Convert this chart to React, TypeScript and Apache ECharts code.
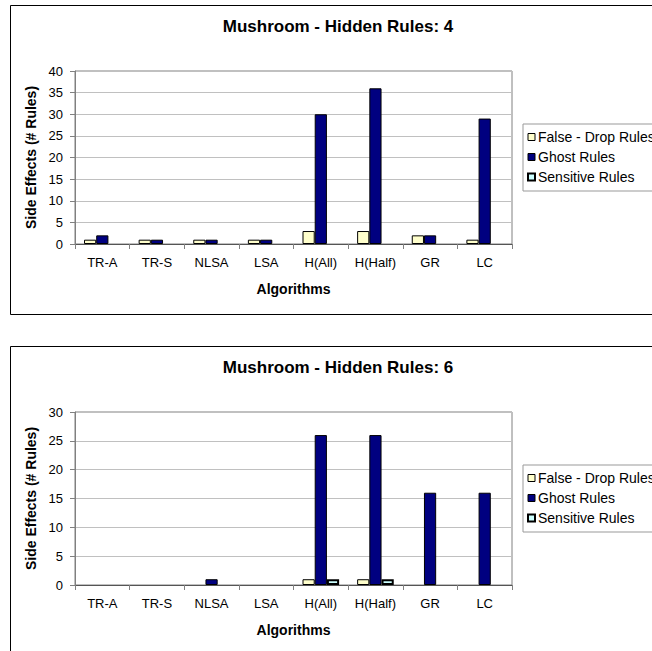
import React, { useEffect, useRef } from "react";
import * as echarts from "echarts";

// Algorithms compared on the Mushroom dataset
const categories = ["TR-A", "TR-S", "NLSA", "LSA", "H(All)", "H(Half)", "GR", "LC"];
const seriesNames = ["False - Drop Rules", "Ghost Rules", "Sensitive Rules"];

// Side effects with 4 hidden rules
const falseDrop4 = [1, 1, 1, 1, 3, 3, 2, 1];
const ghost4 = [2, 1, 1, 1, 30, 36, 2, 29];
const sensitive4 = [0, 0, 0, 0, 0, 0, 0, 0];

// Side effects with 6 hidden rules
const falseDrop6 = [0, 0, 0, 0, 1, 1, 0, 0];
const ghost6 = [0, 0, 1, 0, 26, 26, 16, 16];
const sensitive6 = [0, 0, 0, 0, 1, 1, 0, 0];

const hiddenRules = [4, 6];
const yMax = [40, 30];
const yInterval = 5;

const FONT = "'Liberation Sans', Arial, sans-serif";
const OFFSET = 341; // vertical distance between the two chart panels

export default function App() {
  const ref = useRef<HTMLDivElement>(null);

  useEffect(() => {
    if (!ref.current) return;
    const chart = echarts.init(ref.current, null, { renderer: "svg" });

    const panels = [0, 1];
    const seriesData = [
      [falseDrop4, ghost4, sensitive4],
      [falseDrop6, ghost6, sensitive6],
    ];
    const seriesStyles = [
      { color: "#FFFFCC", borderColor: "#000000", borderWidth: 1 },
      { color: "#000080", borderColor: "#000000", borderWidth: 1 },
      { color: "#CCFFFF", borderColor: "#000000", borderWidth: 2 },
    ];

    const series: any[] = [];
    panels.forEach((p) => {
      seriesData[p].forEach((values, s) => {
        series.push({
          type: "bar",
          name: seriesNames[s],
          xAxisIndex: p,
          yAxisIndex: p,
          // a zero count leaves its slot empty
          data: values.map((v) => (v === 0 ? "-" : v)),
          barGap: "0%",
          barCategoryGap: "33%",
          itemStyle: seriesStyles[s],
        });
      });
    });

    chart.setOption({
      animation: false,
      textStyle: { fontFamily: FONT },
      title: panels.map((p) => ({
        text: `Mushroom - Hidden Rules: ${hiddenRules[p]}`,
        left: 338,
        top: 18 + p * OFFSET,
        textAlign: "center",
        padding: 0,
        textStyle: { fontFamily: FONT, fontSize: 17, fontWeight: "bold", color: "#000" },
      })),
      legend: panels.map((p) => ({
        orient: "vertical",
        left: 523,
        top: 124 + p * OFFSET,
        data: seriesNames.map((name, s) => ({
          name,
          itemStyle: {
            color: seriesStyles[s].color,
            borderColor: "#000000",
            borderWidth: s === 2 ? 2 : 1,
          },
        })),
        icon: "rect",
        itemWidth: 7,
        itemHeight: 7,
        itemGap: 6,
        padding: [6, 5, 7, 4],
        borderColor: "#999999",
        borderWidth: 1,
        selectedMode: false,
        textStyle: { fontFamily: FONT, fontSize: 14, color: "#000", padding: [0, 0, 0, -2] },
      })),
      grid: panels.map((p) => ({
        left: 75,
        top: 71 + p * OFFSET,
        width: 437,
        height: 173,
        show: true,
        borderColor: "#808080",
        borderWidth: 1,
      })),
      xAxis: panels.map((p) => ({
        type: "category",
        gridIndex: p,
        data: categories,
        name: "Algorithms",
        nameLocation: "middle",
        nameGap: 38,
        nameTextStyle: { fontFamily: FONT, fontSize: 14, fontWeight: "bold", color: "#000" },
        axisLine: { lineStyle: { color: "#555555", width: 1 } },
        axisTick: { show: true, length: 5, lineStyle: { color: "#808080" } },
        axisLabel: { margin: 12, fontFamily: FONT, fontSize: 13, color: "#000" },
        splitLine: { show: false },
      })),
      yAxis: panels.map((p) => ({
        type: "value",
        gridIndex: p,
        min: 0,
        max: yMax[p],
        interval: yInterval,
        name: "Side Effects (# Rules)",
        nameLocation: "middle",
        nameGap: 35,
        nameTextStyle: { fontFamily: FONT, fontSize: 14, fontWeight: "bold", color: "#000" },
        axisLine: { show: true, lineStyle: { color: "#808080" } },
        axisTick: { show: true, length: 5, lineStyle: { color: "#808080" } },
        axisLabel: { margin: 12, fontFamily: FONT, fontSize: 13, color: "#000" },
        splitLine: { show: true, lineStyle: { color: "#C0C0C0", width: 1 } },
      })),
      graphic: panels.map((p) => ({
        type: "rect",
        silent: true,
        z: -10,
        shape: { x: 10.5, y: 5.5 + p * OFFSET, width: 700, height: 309 },
        style: { fill: "none", stroke: "#000000", lineWidth: 1 },
      })),
      series,
    });

    return () => {
      chart.dispose();
    };
  }, []);

  return (
    <div
      ref={ref}
      style={{ position: "absolute", left: 0, top: 0, width: 652, height: 651, background: "#ffffff" }}
    />
  );
}
